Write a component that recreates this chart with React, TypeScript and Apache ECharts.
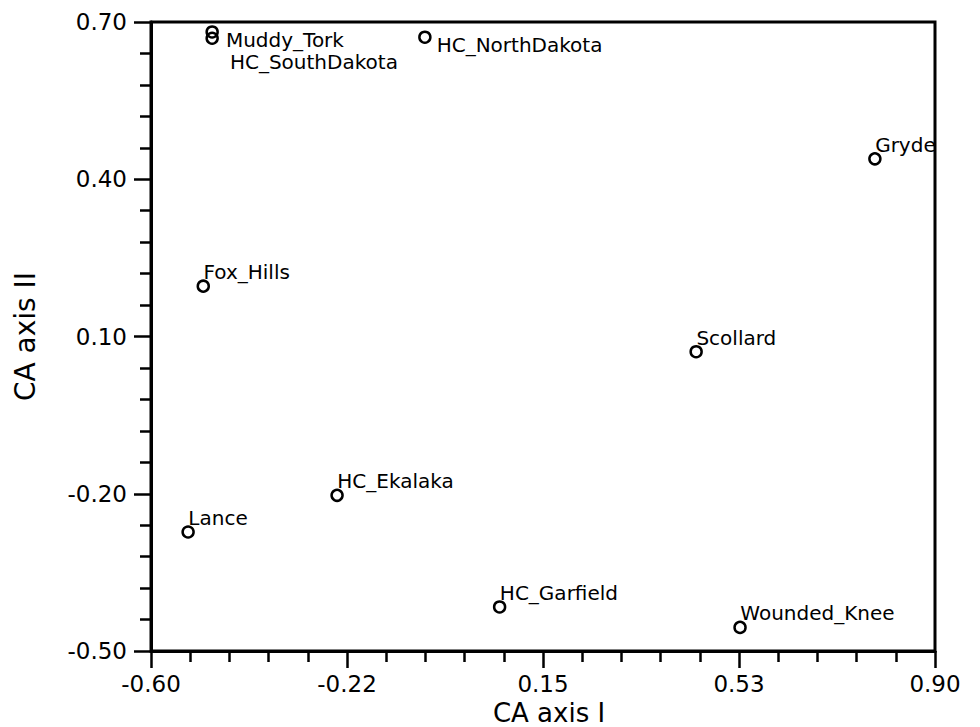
import React, { useEffect, useRef } from "react";
import * as echarts from "echarts";

// ---- data ----
const sites = [
  "Muddy_Tork",
  "HC_SouthDakota",
  "HC_NorthDakota",
  "Gryde",
  "Scollard",
  "Fox_Hills",
  "Lance",
  "HC_Ekalaka",
  "HC_Garfield",
  "Wounded_Knee",
];
const axisI = [-0.483, -0.483, -0.076, 0.785, 0.443, -0.5, -0.529, -0.244, 0.067, 0.527];
const axisII = [0.681, 0.669, 0.671, 0.439, 0.071, 0.196, -0.273, -0.203, -0.416, -0.455];
const xTickLabels = ["-0.60", "-0.22", "0.15", "0.53", "0.90"];
const yTickLabels = ["-0.50", "-0.20", "0.10", "0.40", "0.70"];

// ---- axis ranges ----
const X_MIN = -0.6;
const X_MAX = 0.9;
const X_STEP = 0.375;
const Y_MIN = -0.5;
const Y_MAX = 0.7;
const Y_STEP = 0.3;

// ---- style: label offsets (from marker centre to label's left/middle) ----
const DEFAULT_LABEL_OFFSET = [1.5, -12.8];
const labelOffsets: Record<string, number[]> = {
  Muddy_Tork: [15, 9.0],
  HC_SouthDakota: [19, 24.6],
  HC_NorthDakota: [13, 9.4],
};

const FONT = "DejaVu Sans";
const SYMBOL = 11;

export default function App() {
  const ref = useRef<HTMLDivElement>(null);

  useEffect(() => {
    if (!ref.current) return;
    const chart = echarts.init(ref.current, undefined, { renderer: "svg" });

    const data = sites.map((name, i) => {
      const off = labelOffsets[name] || DEFAULT_LABEL_OFFSET;
      return {
        name,
        value: [axisI[i], axisII[i]],
        label: { position: [off[0] + SYMBOL / 2, off[1] + SYMBOL / 2] },
      };
    });

    const axisCommon = {
      axisLine: { show: true, onZero: false, lineStyle: { color: "#000", width: 3 } },
      axisTick: { show: true, inside: false, length: 17, lineStyle: { color: "#000", width: 2.5 } },
      minorTick: { show: true, splitNumber: 5, length: 11, lineStyle: { color: "#000", width: 2.5 } },
      splitLine: { show: false },
      minorSplitLine: { show: false },
    };

    chart.setOption({
      animation: false,
      backgroundColor: "#fff",
      grid: {
        left: 151,
        top: 22,
        right: 45,
        bottom: 76,
        containLabel: false,
        outerBoundsMode: "none",
        show: true,
        borderColor: "#000",
        borderWidth: 3,
        backgroundColor: "transparent",
      },
      xAxis: {
        type: "value",
        min: X_MIN,
        max: X_MAX,
        interval: X_STEP,
        name: "CA axis I",
        nameLocation: "middle",
        nameGap: 46,
        nameTextStyle: {
          color: "#000",
          fontFamily: FONT,
          fontSize: 26,
          lineHeight: 26,
          padding: [0, 0, 0, 12],
        },
        ...axisCommon,
        axisLabel: {
          color: "#000",
          fontFamily: FONT,
          fontSize: 23,
          margin: 21,
          showMinLabel: true,
          showMaxLabel: true,
          formatter: (v: number) => xTickLabels[Math.round((v - X_MIN) / X_STEP)] ?? "",
        },
      },
      yAxis: {
        type: "value",
        min: Y_MIN,
        max: Y_MAX,
        interval: Y_STEP,
        name: "CA axis II",
        nameLocation: "middle",
        nameGap: 112,
        nameTextStyle: { color: "#000", fontFamily: FONT, fontSize: 28 },
        ...axisCommon,
        axisLabel: {
          color: "#000",
          fontFamily: FONT,
          fontSize: 23,
          margin: 24,
          showMinLabel: true,
          showMaxLabel: true,
          formatter: (v: number) => yTickLabels[Math.round((v - Y_MIN) / Y_STEP)] ?? "",
        },
      },
      series: [
        {
          type: "scatter",
          symbol: "circle",
          symbolSize: SYMBOL,
          silent: true,
          itemStyle: { color: "transparent", borderColor: "#000", borderWidth: 2.5, opacity: 1 },
          emphasis: { disabled: true },
          label: {
            show: true,
            formatter: "{b}",
            color: "#000",
            opacity: 1,
            fontFamily: FONT,
            fontSize: 20,
            align: "left",
            verticalAlign: "middle",
          },
          labelLayout: { hideOverlap: false },
          data,
        },
      ],
    });

    return () => chart.dispose();
  }, []);

  return (
    <div
      ref={ref}
      style={{ position: "fixed", left: 0, top: 0, width: 980, height: 727, background: "#fff" }}
    />
  );
}
